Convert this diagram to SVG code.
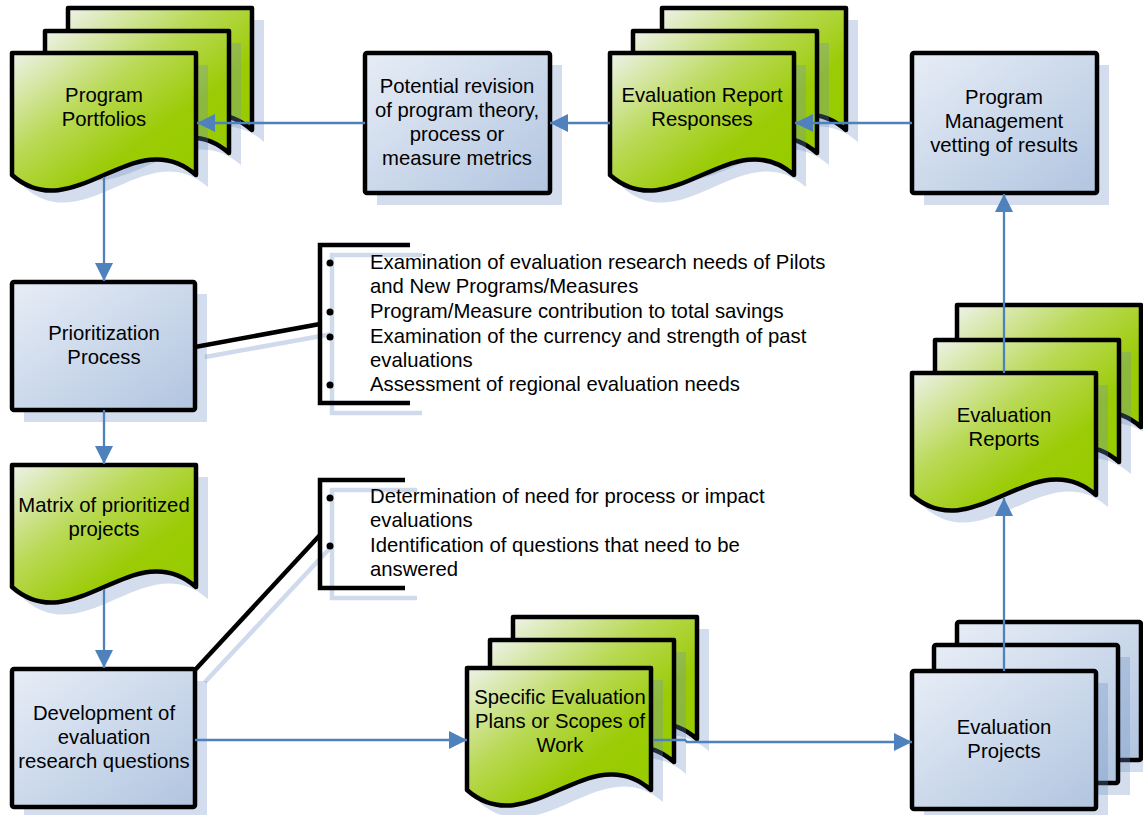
<svg xmlns="http://www.w3.org/2000/svg" width="1143" height="815" viewBox="0 0 1143 815">
<style>
.g{fill:url(#gGreen);stroke:#000;stroke-width:4.5;stroke-linejoin:round}
.b{fill:url(#gBlue);stroke:#000;stroke-width:4.5;stroke-linejoin:round}
.sh{fill:#6d8fc4;opacity:0.3}
.t{font-family:"Liberation Sans",Arial,sans-serif;font-size:20.3px;fill:#000;text-anchor:middle}
.tl{font-family:"Liberation Sans",Arial,sans-serif;font-size:20.3px;fill:#000}
.c{fill:none;stroke:#4f81bd;stroke-width:2.3}
.br{fill:none;stroke:#000;stroke-width:4.5}
.brs{fill:none;stroke:#cfdaec;stroke-width:4.5}
.dot{fill:#000}
</style>
<defs>
<linearGradient id="gGreen" x1="0" y1="0" x2="0.85" y2="0.85">
<stop offset="0" stop-color="#eef2ea"/>
<stop offset="0.45" stop-color="#b9d955"/>
<stop offset="0.8" stop-color="#9bcb05"/>
<stop offset="1" stop-color="#99cc00"/>
</linearGradient>
<linearGradient id="gBlue" x1="0" y1="0" x2="1" y2="1">
<stop offset="0" stop-color="#e7edf6"/>
<stop offset="1" stop-color="#b1c5e0"/>
</linearGradient>
<path id="doc" d="M0,0 H184 V122 C122.7,68 61.3,176 0,122 Z"/>
<marker id="ah" markerUnits="userSpaceOnUse" markerWidth="18" markerHeight="18" refX="18" refY="9" orient="auto"><path d="M0,0 L18,9 L0,18 Z" fill="#4f81bd"/></marker>
</defs>
<rect width="1143" height="815" fill="#fff"/>

<g id="callout-shadows">
<path class="brs" d="M422,255 H332 V413 H422"/>
<path class="brs" d="M205,357 L332,334"/>
<path class="brs" d="M417,490 H332 V598 H417"/>
<path class="brs" d="M205,682 L332,546"/>
</g>

<g id="program-portfolios">
<use href="#doc" class="sh" transform="translate(80,20)"/>
<use href="#doc" class="g" transform="translate(68,8)"/>
<use href="#doc" class="sh" transform="translate(57,43)"/>
<use href="#doc" class="g" transform="translate(45,31)"/>
<use href="#doc" class="sh" transform="translate(24,65)"/>
<use href="#doc" class="g" transform="translate(12,53)"/>
<text class="t" x="104" y="102">Program</text>
<text class="t" x="104" y="126">Portfolios</text>
</g>

<g id="potential-revision">
<rect class="sh" x="377" y="65" width="185" height="140"/>
<rect class="b" x="365" y="53" width="185" height="140" rx="2"/>
<text class="t" x="457" y="93">Potential revision</text>
<text class="t" x="457" y="117">of program theory,</text>
<text class="t" x="457" y="141">process or</text>
<text class="t" x="457" y="165">measure metrics</text>
</g>

<g id="evaluation-report-responses">
<use href="#doc" class="sh" transform="translate(674,20)"/>
<use href="#doc" class="g" transform="translate(662,8)"/>
<use href="#doc" class="sh" transform="translate(645,43)"/>
<use href="#doc" class="g" transform="translate(633,31)"/>
<use href="#doc" class="sh" transform="translate(622,65)"/>
<use href="#doc" class="g" transform="translate(610,53)"/>
<text class="t" x="702" y="102">Evaluation Report</text>
<text class="t" x="702" y="126">Responses</text>
</g>

<g id="program-management">
<rect class="sh" x="924" y="65" width="185" height="140"/>
<rect class="b" x="912" y="53" width="185" height="140" rx="2"/>
<text class="t" x="1004" y="104">Program</text>
<text class="t" x="1004" y="128">Management</text>
<text class="t" x="1004" y="152">vetting of results</text>
</g>

<g id="prioritization-process">
<rect class="sh" x="24" y="294" width="183" height="128"/>
<rect class="b" x="12" y="282" width="183" height="128" rx="2"/>
<text class="t" x="104" y="340">Prioritization</text>
<text class="t" x="104" y="364">Process</text>
</g>

<g id="callout-1">
<path class="br" d="M410,245 H320 V403 H410"/>
<path class="br" d="M195,347 L320,324"/>
<circle class="dot" cx="330" cy="263" r="3.5"/>
<circle class="dot" cx="330" cy="312" r="3.5"/>
<circle class="dot" cx="330" cy="337" r="3.5"/>
<circle class="dot" cx="330" cy="385" r="3.5"/>
<text class="tl" x="370" y="269">Examination of evaluation research needs of Pilots</text>
<text class="tl" x="370" y="293">and New Programs/Measures</text>
<text class="tl" x="370" y="318">Program/Measure contribution to total savings</text>
<text class="tl" x="370" y="343">Examination of the currency and strength of past</text>
<text class="tl" x="370" y="367">evaluations</text>
<text class="tl" x="370" y="391">Assessment of regional evaluation needs</text>
</g>

<g id="matrix">
<use href="#doc" class="sh" transform="translate(24,477)"/>
<use href="#doc" class="g" transform="translate(12,465)"/>
<text class="t" x="104" y="512">Matrix of prioritized</text>
<text class="t" x="104" y="536">projects</text>
</g>

<g id="callout-2">
<path class="br" d="M405,480 H320 V588 H405"/>
<path class="br" d="M195,670 L320,535"/>
<circle class="dot" cx="330" cy="498" r="3.5"/>
<circle class="dot" cx="330" cy="546" r="3.5"/>
<text class="tl" x="370" y="503">Determination of need for process or impact</text>
<text class="tl" x="370" y="527">evaluations</text>
<text class="tl" x="370" y="552">Identification of questions that need to be</text>
<text class="tl" x="370" y="576">answered</text>
</g>

<g id="development">
<rect class="sh" x="24" y="681" width="183" height="138"/>
<rect class="b" x="12" y="669" width="183" height="138" rx="2"/>
<text class="t" x="104" y="720">Development of</text>
<text class="t" x="104" y="744">evaluation</text>
<text class="t" x="104" y="768">research questions</text>
</g>

<g id="specific-evaluation-plans">
<use href="#doc" class="sh" transform="translate(525,629)"/>
<use href="#doc" class="g" transform="translate(513,617)"/>
<use href="#doc" class="sh" transform="translate(502,652)"/>
<use href="#doc" class="g" transform="translate(490,640)"/>
<use href="#doc" class="sh" transform="translate(479,680)"/>
<use href="#doc" class="g" transform="translate(467,668)"/>
<text class="t" x="560" y="704">Specific Evaluation</text>
<text class="t" x="560" y="728">Plans or Scopes of</text>
<text class="t" x="560" y="752">Work</text>
</g>

<g id="evaluation-projects">
<rect class="sh" x="969" y="634" width="184" height="138"/>
<rect class="b" x="957" y="622" width="184" height="138" rx="2"/>
<rect class="sh" x="946" y="657" width="184" height="138"/>
<rect class="b" x="934" y="645" width="184" height="138" rx="2"/>
<rect class="sh" x="924" y="683" width="184" height="138"/>
<rect class="b" x="912" y="671" width="184" height="138" rx="2"/>
<text class="t" x="1004" y="734">Evaluation</text>
<text class="t" x="1004" y="758">Projects</text>
</g>

<g id="evaluation-reports">
<use href="#doc" class="sh" transform="translate(969,317)"/>
<use href="#doc" class="g" transform="translate(957,305)"/>
<use href="#doc" class="sh" transform="translate(947,352)"/>
<use href="#doc" class="g" transform="translate(935,340)"/>
<use href="#doc" class="sh" transform="translate(924,385)"/>
<use href="#doc" class="g" transform="translate(912,373)"/>
<text class="t" x="1004" y="422">Evaluation</text>
<text class="t" x="1004" y="446">Reports</text>
</g>

<g id="connectors">
<path class="c" marker-end="url(#ah)" d="M365,123 H197"/>
<path class="c" marker-end="url(#ah)" d="M610,123 H550"/>
<path class="c" marker-end="url(#ah)" d="M912,123 H795"/>
<path class="c" marker-end="url(#ah)" d="M104,177 V281"/>
<path class="c" marker-end="url(#ah)" d="M104,410 V464"/>
<path class="c" marker-end="url(#ah)" d="M104,589 V668"/>
<path class="c" marker-end="url(#ah)" d="M195,740 H467"/>
<path class="c" marker-end="url(#ah)" d="M653,740 H685 L687,742 H912"/>
<path class="c" marker-end="url(#ah)" d="M1004,671 V498"/>
<path class="c" marker-end="url(#ah)" d="M1004,373 V194"/>
</g>
</svg>
